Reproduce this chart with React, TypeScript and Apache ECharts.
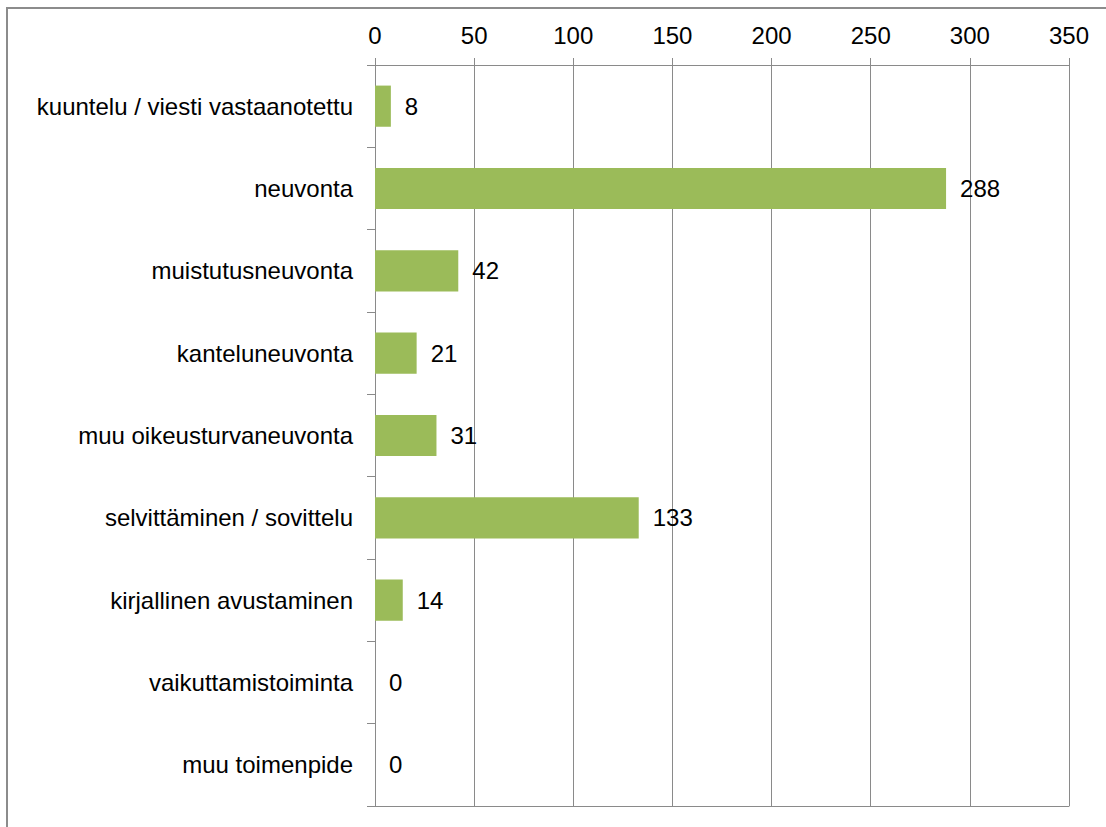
import React, { useEffect, useRef } from "react";
import * as echarts from "echarts";

// Toimenpiteet lukumäärinä
const categories: string[] = [
  "kuuntelu / viesti vastaanotettu",
  "neuvonta",
  "muistutusneuvonta",
  "kanteluneuvonta",
  "muu oikeusturvaneuvonta",
  "selvittäminen / sovittelu",
  "kirjallinen avustaminen",
  "vaikuttamistoiminta",
  "muu toimenpide",
];
const counts: number[] = [8, 288, 42, 21, 31, 133, 14, 0, 0];

const axisMin = 0;
const axisMax = 350;
const axisStep = 50;

const FONT = "'Liberation Sans', Arial, sans-serif";
const LINE = "#8a8a8a";

export default function App() {
  const ref = useRef<HTMLDivElement>(null);

  useEffect(() => {
    if (!ref.current) return;
    const chart = echarts.init(ref.current, null, { renderer: "svg" });
    chart.setOption({
      animation: false,
      backgroundColor: "#ffffff",
      textStyle: { fontFamily: FONT },
      grid: { left: 375, right: 37, top: 65, bottom: 21, containLabel: false },
      xAxis: [
        {
          type: "value",
          position: "top",
          min: axisMin,
          max: axisMax,
          interval: axisStep,
          axisLine: { show: true, lineStyle: { color: LINE, width: 1 } },
          axisTick: { show: true, length: 7, lineStyle: { color: LINE } },
          axisLabel: { color: "#000", fontSize: 24, fontFamily: FONT, margin: 18 },
          splitLine: { show: true, lineStyle: { color: LINE, width: 1 } },
        },
        {
          type: "value",
          position: "bottom",
          min: axisMin,
          max: axisMax,
          interval: axisStep,
          axisLine: { show: true, lineStyle: { color: LINE, width: 1 } },
          axisTick: { show: false },
          axisLabel: { show: false },
          splitLine: { show: false },
        },
      ],
      yAxis: {
        type: "category",
        data: categories,
        inverse: true,
        boundaryGap: true,
        axisLine: { show: true, lineStyle: { color: LINE, width: 1 } },
        axisTick: { show: true, length: 8, lineStyle: { color: LINE } },
        axisLabel: { color: "#000", fontSize: 24, fontFamily: FONT, margin: 22 },
      },
      graphic: [
        {
          type: "rect",
          shape: { x: 7, y: 8, width: 1300, height: 1000 },
          style: { fill: "none", stroke: "#8c8c8c", lineWidth: 2 },
          silent: true,
        },
      ],
      series: [
        {
          type: "bar",
          data: counts,
          xAxisIndex: 0,
          barCategoryGap: "50%",
          itemStyle: { color: "#9bbb59" },
          label: {
            show: true,
            position: "right",
            distance: 14,
            color: "#000",
            fontSize: 24,
            fontFamily: FONT,
          },
        },
      ],
    });
    return () => chart.dispose();
  }, []);

  return (
    <div
      ref={ref}
      style={{ position: "fixed", left: 0, top: 0, width: 1106, height: 827 }}
    />
  );
}
